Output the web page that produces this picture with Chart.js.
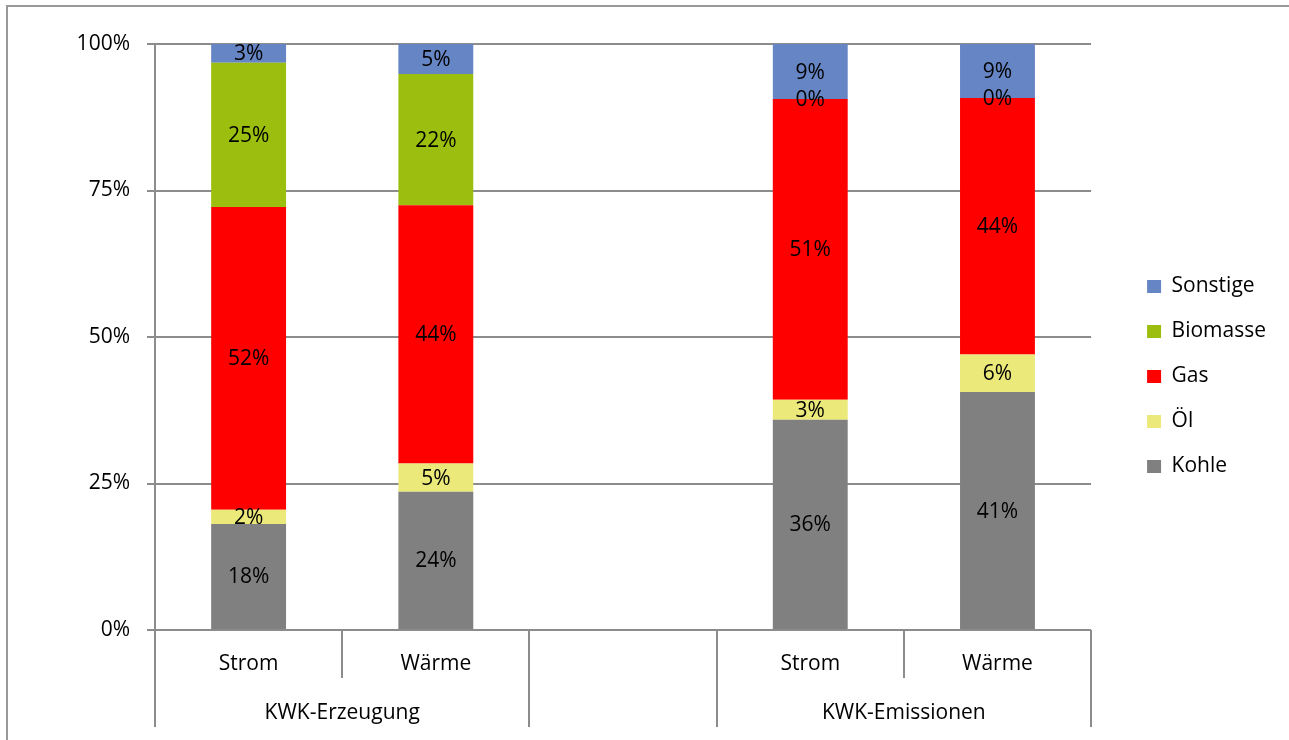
<!DOCTYPE html>
<html>
<head>
<meta charset="utf-8">
<script src="https://cdn.jsdelivr.net/npm/chart.js@4.4.1/dist/chart.umd.min.js"></script>
<style>
  html, body { margin: 0; padding: 0; background: #fff; }
  #wrap { position: relative; width: 1289px; height: 740px; }
</style>
</head>
<body>
<div id="wrap"><canvas id="c" width="1289" height="740"></canvas></div>
<script>
// Categories along the x axis and their two-level grouping
const categories = ['Strom', 'Wärme', '', 'Strom', 'Wärme'];
const groupLabels = ['KWK-Erzeugung', '', 'KWK-Emissionen'];
const groupSizes = [2, 1, 2];

// Shares per energy source (percent)
const kohle    = [18.1, 23.6, null, 35.9, 40.6];
const oel      = [2.4, 4.8, null, 3.4, 6.4];
const gas      = [51.7, 44.1, null, 51.3, 43.8];
const biomasse = [24.6, 22.4, null, 0, 0];
const sonstige = [3.2, 5.1, null, 9.4, 9.2];

const yTicks = [0, 25, 50, 75, 100];

const FONT = "'Open Sans', 'DejaVu Sans', sans-serif";
const FONT_SIZE = 21;
const GRID = '#8c8c8c';

Chart.defaults.font.family = FONT;
Chart.defaults.font.size = FONT_SIZE;
Chart.defaults.color = '#000';

// Outer frame of the chart object
const frame = {
  id: 'frame',
  beforeDraw(chart) {
    const ctx = chart.ctx;
    ctx.save();
    ctx.strokeStyle = '#999';
    ctx.lineWidth = 2;
    ctx.beginPath();
    ctx.moveTo(7, chart.height);
    ctx.lineTo(7, 6);
    ctx.lineTo(chart.width, 6);
    ctx.stroke();
    ctx.restore();
  }
};

// Percentage labels centred in each bar segment
const segmentLabels = {
  id: 'segmentLabels',
  afterDatasetsDraw(chart) {
    const ctx = chart.ctx;
    ctx.save();
    ctx.font = FONT_SIZE + 'px ' + FONT;
    ctx.fillStyle = '#000';
    ctx.textAlign = 'center';
    ctx.textBaseline = 'middle';
    chart.data.datasets.forEach((ds, di) => {
      const meta = chart.getDatasetMeta(di);
      meta.data.forEach((bar, i) => {
        const v = ds.data[i];
        if (v === null || v === undefined) return;
        const { x, y, base } = bar.getProps(['x', 'y', 'base'], true);
        ctx.fillText(Math.round(v) + '%', x, (y + base) / 2 + 1);
      });
    });
    ctx.restore();
  }
};

// Category separators and group captions below the x axis
const axisGroups = {
  id: 'axisGroups',
  afterDraw(chart) {
    const x = chart.scales.x;
    const ctx = chart.ctx;
    const top = chart.chartArea.bottom;
    const edge = k => x.getPixelForValue(k - 0.5);
    const groupEdges = [0];
    let k = 0;
    groupSizes.forEach(n => { k += n; groupEdges.push(k); });

    ctx.save();
    ctx.strokeStyle = GRID;
    ctx.lineWidth = 2;
    for (let i = 0; i <= categories.length; i++) {
      const long = groupEdges.includes(i);
      const px = Math.round(edge(i));
      ctx.beginPath();
      ctx.moveTo(px, top);
      ctx.lineTo(px, top + (long ? 97 : 48));
      ctx.stroke();
    }
    ctx.font = FONT_SIZE + 'px ' + FONT;
    ctx.fillStyle = '#000';
    ctx.textAlign = 'center';
    ctx.textBaseline = 'middle';
    let s = 0;
    groupSizes.forEach((n, gi) => {
      const cx = (edge(s) + edge(s + n)) / 2;
      if (groupLabels[gi]) ctx.fillText(groupLabels[gi], cx, top + 83);
      s += n;
    });
    ctx.restore();
  }
};

// Move the legend a little away from the plot area
const legendOffset = {
  id: 'legendOffset',
  afterLayout(chart) {
    const lg = chart.legend;
    lg.left += 32;
    lg.right += 32;
  }
};

const barStyle = { borderWidth: 0, barPercentage: 0.4, categoryPercentage: 1.0 };

new Chart(document.getElementById('c'), {
  type: 'bar',
  data: {
    labels: categories,
    datasets: [
      { label: 'Kohle',    data: kohle,    backgroundColor: '#808080', ...barStyle },
      { label: 'Öl',       data: oel,      backgroundColor: '#EBE979', ...barStyle },
      { label: 'Gas',      data: gas,      backgroundColor: '#FF0000', ...barStyle },
      { label: 'Biomasse', data: biomasse, backgroundColor: '#9BBE0F', ...barStyle },
      { label: 'Sonstige', data: sonstige, backgroundColor: '#6685C4', ...barStyle }
    ]
  },
  options: {
    responsive: false,
    animation: false,
    devicePixelRatio: 1,
    layout: { padding: { top: 44, left: 7, right: 45, bottom: 31 } },
    plugins: {
      legend: {
        position: 'right',
        reverse: true,
        labels: {
          boxWidth: 14,
          boxHeight: 13,
          padding: 24,
          color: '#000',
          font: { size: FONT_SIZE, family: FONT }
        }
      },
      tooltip: { enabled: false }
    },
    scales: {
      x: {
        stacked: true,
        grid: { display: false, drawTicks: false },
        border: { display: false },
        ticks: { padding: 21, maxRotation: 0, autoSkip: false, color: '#000' },
        afterFit(scale) { scale.height = 79; }
      },
      y: {
        stacked: true,
        min: 0,
        max: 100,
        afterBuildTicks(scale) { scale.ticks = yTicks.map(v => ({ value: v })); },
        grid: { color: GRID, lineWidth: 2, tickLength: 8, drawTicks: true },
        border: { display: true, color: GRID, width: 2 },
        ticks: { padding: 17, color: '#000', callback: v => v + '%' },
        afterFit(scale) { scale.width = 148; }
      }
    }
  },
  plugins: [frame, segmentLabels, axisGroups, legendOffset]
});
</script>
</body>
</html>
